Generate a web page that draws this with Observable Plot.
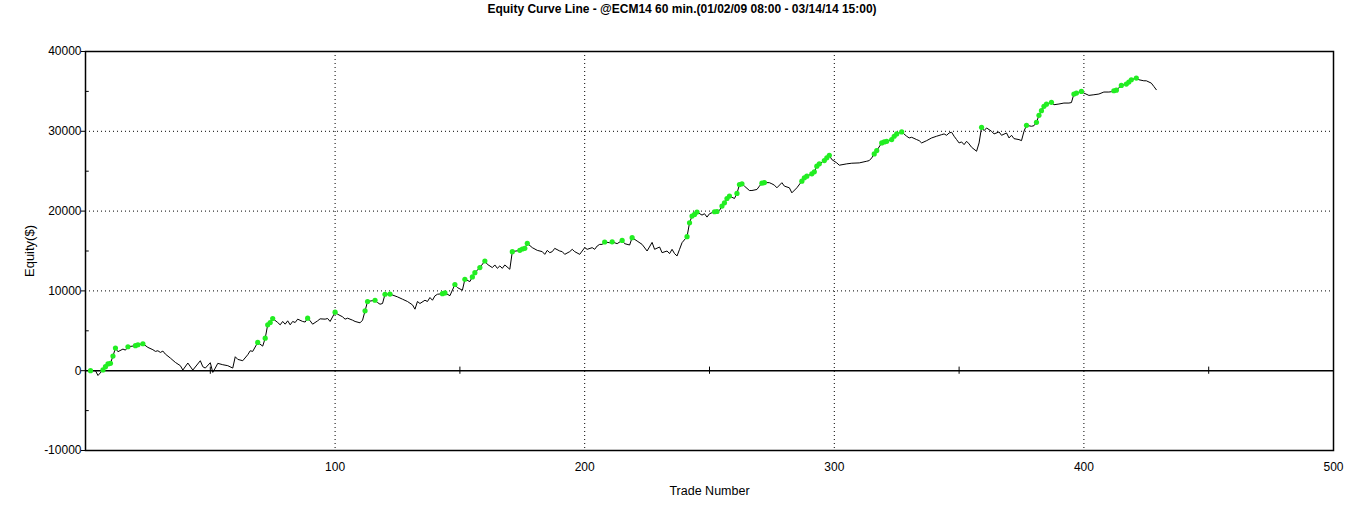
<!DOCTYPE html>
<html>
<head>
<meta charset="utf-8">
<script src="https://cdn.jsdelivr.net/npm/d3@7"></script>
<script src="https://cdn.jsdelivr.net/npm/@observablehq/plot@0.6"></script>
<style>
  html, body { margin: 0; padding: 0; background: #fff; }
  #wrap { width: 1364px; }
  #title { height: 18px; padding-top: 2px; line-height: 13px; text-align: center; font: bold 12px "Liberation Sans", Arial, sans-serif; color: #000; }
</style>
</head>
<body>
<div id="wrap">
  <div id="title">Equity Curve Line - @ECM14 60 min.(01/02/09 08:00 - 03/14/14 15:00)</div>
  <div id="chart"></div>
</div>
<script>
const trades = [2,4,5,7,8,9,10,11,12,13,15,16,17,20,21,23,25,27,28,29,30,31,32,34,36,38,39,41,43,46,47,48,50,51,52,53,55,57,59,60,61,63,65,66,67,69,71,72,73,74,75,
77,78,79,80,81,82,83,84,85,87,88,89,90,91,93,94,96,97,98,100,101,103,104,105,107,108,110,111,112,113,116,117,118,119,120,122,125,127,129,131,132,133,134,136,137,138,139,140,141,143,144,146,148,149,
151,152,154,155,156,158,160,161,163,164,165,166,167,168,170,171,174,175,176,177,179,181,183,184,185,186,187,188,190,191,192,194,195,196,198,199,200,201,203,204,205,206,207,208,210,211,213,215,216,218,219,
221,223,225,227,228,230,231,233,234,235,236,237,238,239,241,242,243,244,245,247,248,249,250,252,253,254,255,256,257,258,260,261,262,263,264,266,267,269,270,271,272,274,275,276,277,279,280,282,283,285,287,288,289,291,292,293,294,296,297,298,299,
301,302,305,307,310,313,314,315,316,317,319,320,321,323,324,325,327,329,330,331,333,334,335,337,339,341,343,344,345,346,347,348,349,350,351,352,353,354,355,357,358,359,360,361,363,364,366,367,369,370,371,372,374,375,376,377,379,380,381,382,383,384,385,387,388,390,392,394,395,396,397,399,
400,402,404,406,408,410,411,412,413,415,417,418,419,421,422,424,425,427,428,429];
const equity = [0,0,-600,100,500,850,920,1830,2830,2380,2710,2580,3000,3130,3250,3380,2920,2630,2420,2500,2290,2460,2080,1580,1040,630,80,960,80,1250,500,330,1000,-210,330,920,750,630,330,1750,1420,1250,2000,2500,2420,3540,3080,4080,5750,6040,6540,
6040,5750,6170,5830,6250,5750,6170,6040,6460,6170,6100,6580,6250,5830,6250,6500,6460,6540,6170,7330,7080,6750,6460,6580,6330,6170,6000,6330,7500,8670,8830,8540,8330,8420,9580,9600,9250,8960,8670,8250,7710,8670,8420,8830,8670,9170,8830,9380,9580,9650,9750,9400,10800,10420,
10080,11460,11170,11750,12290,12920,13750,13330,12920,13250,12830,13130,12830,13250,12710,14920,15080,15250,15330,15960,15420,15080,14920,14580,15080,14790,14920,15330,15000,14920,14580,14920,15210,14920,14580,15000,15420,15210,15420,15210,15625,15830,15830,16125,16040,16150,15920,16330,15920,15750,16670,
16250,15830,15000,16080,15210,15500,14790,15000,14670,15210,14670,14380,15210,16040,16790,18540,19380,19580,19880,19500,19670,19250,19670,19920,19950,20080,20630,21040,21580,21880,21580,22210,23330,23420,23130,22580,22580,22710,23130,23500,23580,23560,23420,23250,22920,23560,23130,22920,22290,22920,23750,24170,24380,24670,24920,25630,25920,26330,26670,27000,26460,
26040,25750,25920,26000,26040,26250,26330,26670,27170,27580,28540,28670,28750,28960,29380,29670,29920,29380,29170,29250,28960,28830,28540,28830,29170,29380,29580,29670,29500,29790,29880,29380,28960,28540,28670,28330,28750,28420,28000,27500,28540,30500,30080,30420,30000,29670,29920,29500,29790,29170,29500,29080,28960,28830,30000,30750,30630,30700,31130,32000,32580,33130,33400,33630,33330,33420,33540,33540,33600,34670,34790,35000,
34790,34500,34580,34670,34920,34920,34960,35080,35150,35750,35920,36170,36460,36670,36460,36330,36330,36040,35630,35210];
const newHighTrades = [2,7,8,9,10,11,12,17,20,21,23,69,72,73,74,75,89,100,112,113,116,120,122,143,144,148,152,155,156,158,160,171,174,175,176,177,208,211,215,219,241,242,243,244,245,252,253,255,256,257,258,261,262,263,271,272,287,288,289,291,292,293,294,296,297,298,316,317,319,320,321,323,324,325,327,359,377,381,382,383,384,385,387,396,397,399,412,413,415,417,418,419,421];

const yTicks = [-10000, 0, 10000, 20000, 30000, 40000];
const yMinorTicks = [-5000, 5000, 15000, 25000, 35000];
const yGridLines = [10000, 20000, 30000];
const xTicks = [100, 200, 300, 400, 500];
const xGridLines = [100, 200, 300, 400];
const xMinorTicks = [50, 150, 250, 350, 450];

const rows = trades.map((t, i) => ({trade: t, equity: equity[i]}));
const highs = rows.filter(d => newHighTrades.includes(d.trade));

const chart = Plot.plot({
  width: 1364,
  height: 497,
  marginTop: 31,
  marginBottom: 67,
  marginLeft: 85,
  marginRight: 31,
  style: {fontFamily: "'Liberation Sans', Arial, sans-serif", fontSize: "12px", color: "#000", background: "#fff", overflow: "visible"},
  x: {domain: [0, 500]},
  y: {domain: [-10000, 40000]},
  marks: [
    Plot.gridX(xGridLines, {stroke: "#000", strokeOpacity: 1, strokeDasharray: "1,3"}),
    Plot.gridY(yGridLines, {stroke: "#000", strokeOpacity: 1, strokeDasharray: "1,3"}),
    Plot.ruleY([0], {stroke: "#000", strokeWidth: 1.5}),
    Plot.ruleY(yMinorTicks, {x1: 0, x2: 1.5, stroke: "#000", strokeWidth: 1}),
    Plot.ruleX(xMinorTicks, {y1: -450, y2: 450, stroke: "#000", strokeWidth: 1}),
    Plot.line(rows, {x: "trade", y: "equity", stroke: "#000", strokeWidth: 1}),
    Plot.dot(highs, {x: "trade", y: "equity", r: 2.6, fill: "#22ee22", stroke: null}),
    Plot.frame({stroke: "#000", strokeWidth: 1.5}),
    Plot.axisY(yTicks, {tickSize: 4, tickPadding: 0, tickFormat: d => String(d), label: null}),
    Plot.axisY({ticks: [], tickSize: 0, label: "Equity($)", labelAnchor: "center", labelOffset: 61, labelArrow: "none", fontSize: 13}),
    Plot.axisX(xTicks, {tickSize: 0, tickPadding: 12, tickFormat: d => String(d), label: null}),
    Plot.axisX({ticks: [], tickSize: 0, label: "Trade Number", labelAnchor: "center", labelOffset: 44, labelArrow: "none", fontSize: 12.5})
  ]
});
document.getElementById("chart").appendChild(chart);
</script>
</body>
</html>
